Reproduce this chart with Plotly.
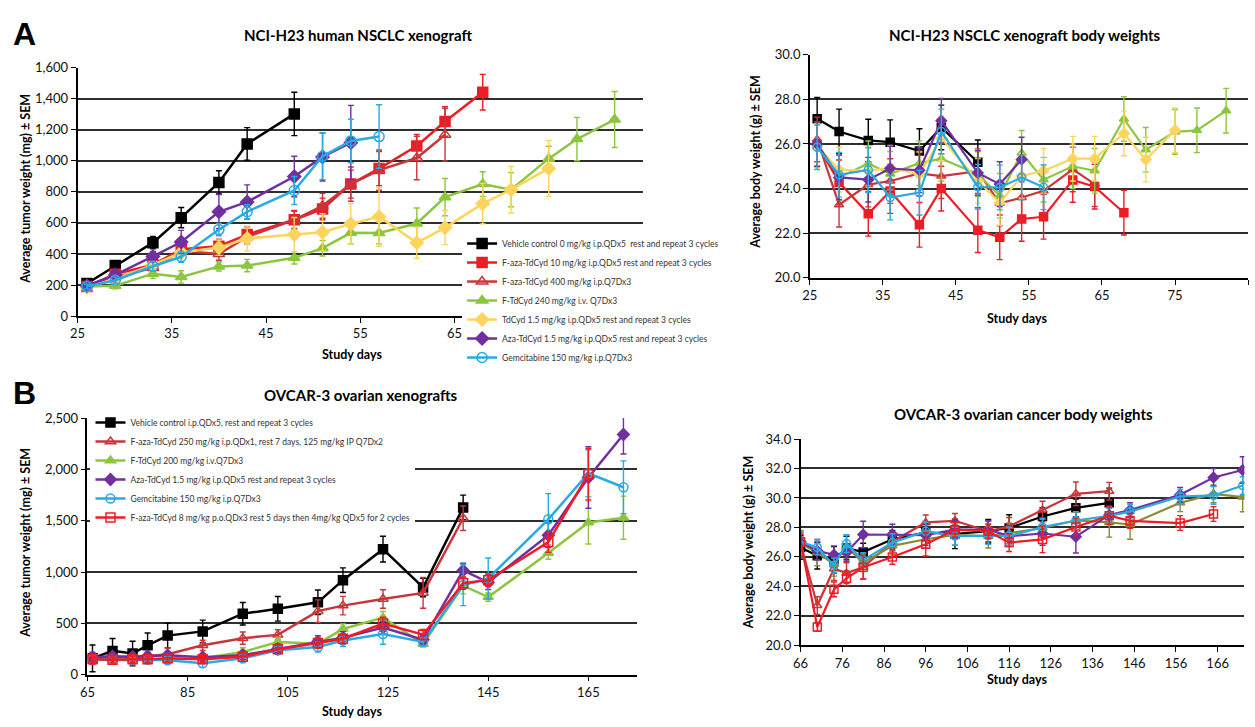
import plotly.graph_objects as go

W, H = 1255, 727

# ================= Panel A : NCI-H23 tumor weights =================
days_a = [26, 29, 33, 36, 40, 43, 48, 51, 54, 57, 61, 64, 68, 71, 75, 78, 82]

a_tw_vehicle = [210, 325, 473, 634, 861, 1109, 1302]
a_tw_vehicle_err = [15, 20, 40, 65, 75, 105, 140]
a_tw_faza10 = [190, 270, 330, 430, 450, 525, 620, 690, 850, 950, 1095, 1253, 1442]
a_tw_faza10_err = [15, 25, 30, 40, 45, 50, 60, 70, 90, 110, 75, 95, 115]
a_tw_faza400 = [195, 250, 310, 420, 400, 510, 620, 710, 850, 940, 1018, 1168]
a_tw_faza400_err = [15, 25, 30, 35, 40, 45, 55, 80, 110, 130, 140, 170]
a_tw_ftdcyd = [190, 195, 273, 252, 320, 325, 375, 437, 536, 535, 596, 766, 850, 814, 1014, 1140, 1266]
a_tw_ftdcyd_err = [15, 20, 30, 40, 30, 40, 40, 50, 70, 70, 100, 120, 80, 110, 80, 140, 180]
a_tw_tdcyd = [185, 240, 330, 410, 441, 500, 525, 540, 594, 640, 472, 570, 724, 814, 951]
a_tw_tdcyd_err = [15, 25, 35, 40, 50, 80, 110, 120, 130, 190, 100, 110, 130, 150, 180]
a_tw_aza = [195, 265, 384, 477, 672, 735, 899, 1025, 1117]
a_tw_aza_err = [15, 25, 30, 75, 110, 110, 130, 155, 240]
a_tw_gem = [190, 231, 321, 382, 557, 672, 809, 1029, 1128, 1156]
a_tw_gem_err = [15, 20, 30, 35, 40, 45, 90, 150, 140, 205]

# ================= Panel A : NCI-H23 body weights =================
a_bw_vehicle = [27.13, 26.56, 26.16, 26.08, 25.68, 26.74, 25.18]
a_bw_vehicle_err = [0.95, 1.0, 0.95, 1.0, 1.0, 1.0, 1.0]
a_bw_faza10 = [25.98, 24.28, 22.87, 23.89, 22.38, 24.0, 22.14, 21.82, 22.64, 22.74, 24.39, 24.09, 22.92]
a_bw_faza10_err = [1.0, 1.0, 1.0, 1.0, 1.0, 1.0, 1.0, 1.0, 1.0, 1.0, 1.0, 1.0, 1.0]
a_bw_faza400 = [26.2, 23.28, 24.18, 24.34, 24.68, 24.56, 24.78, 23.34, 23.6, 23.9, 24.86, 24.2]
a_bw_faza400_err = [1.0, 1.0, 1.0, 1.0, 1.0, 1.0, 1.0, 1.0, 1.0, 1.0, 1.0, 1.0]
a_bw_ftdcyd = [26.0, 24.5, 25.13, 24.66, 25.14, 25.34, 24.65, 23.68, 25.6, 24.4, 25.0, 24.8, 27.12, 25.74, 26.54, 26.61, 27.49]
a_bw_ftdcyd_err = [1.0, 1.0, 1.0, 1.0, 1.0, 1.0, 1.0, 1.0, 1.0, 1.0, 1.0, 1.0, 1.0, 1.0, 1.0, 1.0, 1.0]
a_bw_tdcyd = [25.9, 24.85, 24.8, 24.93, 24.64, 26.25, 24.35, 23.36, 24.57, 24.8, 25.34, 25.34, 26.47, 25.3, 26.61]
a_bw_tdcyd_err = [1.0, 1.0, 1.0, 1.0, 1.0, 1.0, 1.0, 1.0, 1.0, 1.0, 1.0, 1.0, 1.0, 1.0, 1.0]
a_bw_aza = [26.0, 24.5, 24.4, 24.9, 24.82, 27.04, 24.7, 24.2, 25.3]
a_bw_aza_err = [1.0, 1.0, 1.0, 1.0, 1.0, 1.0, 1.0, 1.0, 1.0]
a_bw_gem = [25.85, 24.62, 24.84, 23.6, 23.82, 26.56, 24.08, 24.05, 24.5, 24.06]
a_bw_gem_err = [1.0, 1.0, 1.0, 1.0, 1.0, 1.0, 1.0, 1.0, 1.0, 1.0]

# ================= Panel B : OVCAR-3 tumor weights =================
days_b = [66, 70, 74, 77, 81, 88, 96, 103, 111, 116, 124, 132, 140, 145, 157, 165, 172]

b_tw_vehicle = [159, 232, 206, 286, 381, 422, 594, 642, 705, 921, 1223, 850, 1629]
b_tw_vehicle_err = [130, 120, 120, 120, 120, 110, 110, 120, 120, 120, 125, 90, 120]
b_tw_faza250 = [160, 165, 170, 180, 200, 286, 356, 388, 619, 673, 737, 797, 1524]
b_tw_faza250_err = [60, 40, 40, 40, 60, 50, 60, 50, 110, 90, 90, 150, 120]
b_tw_ftdcyd = [160, 150, 150, 150, 150, 160, 222, 318, 302, 445, 556, 300, 867, 756, 1185, 1483, 1530]
b_tw_ftdcyd_err = [40, 30, 30, 30, 30, 40, 40, 40, 40, 50, 60, 30, 80, 40, 60, 210, 210]
b_tw_aza = [170, 180, 175, 180, 190, 170, 190, 250, 320, 360, 460, 340, 1016, 900, 1359, 1921, 2340]
b_tw_aza_err = [40, 30, 30, 30, 30, 30, 40, 50, 60, 60, 60, 40, 70, 70, 120, 300, 190]
b_tw_gem = [150, 145, 140, 145, 140, 111, 159, 238, 270, 333, 397, 320, 873, 937, 1514, 1962, 1826]
b_tw_gem_err = [40, 30, 30, 30, 30, 40, 40, 40, 50, 60, 100, 40, 200, 200, 250, 230, 257]
b_tw_faza8 = [150, 145, 150, 150, 160, 150, 175, 248, 308, 350, 499, 390, 892, 921, 1292, 1953]
b_tw_faza8_err = [30, 30, 30, 30, 30, 30, 30, 40, 50, 50, 60, 50, 60, 60, 100, 250]

# ================= Panel B : OVCAR-3 body weights =================
b_bw_vehicle = [26.64, 26.08, 25.8, 26.6, 26.33, 27.2, 27.67, 27.56, 27.74, 27.96, 28.74, 29.33, 29.67]
b_bw_vehicle_err = [0.8, 0.9, 0.9, 0.8, 0.6, 0.6, 0.6, 1.0, 0.8, 0.9, 0.6, 0.6, 1.0]
b_bw_faza250 = [26.9, 22.7, 25.2, 24.9, 25.3, 27.03, 28.34, 28.45, 27.74, 28.07, 29.18, 30.28, 30.46]
b_bw_faza250_err = [0.8, 0.6, 0.8, 0.7, 0.8, 0.6, 0.5, 0.5, 0.7, 0.6, 0.6, 0.8, 0.6]
b_bw_ftdcyd = [26.9, 26.3, 25.5, 26.7, 25.6, 26.75, 27.2, 27.5, 27.4, 27.6, 27.96, 28.47, 28.34, 28.2, 29.67, 30.28, 30.06]
b_bw_ftdcyd_err = [0.9, 0.9, 0.8, 0.8, 0.6, 0.6, 0.6, 0.7, 0.8, 0.7, 0.6, 0.6, 1.0, 1.0, 0.6, 0.6, 1.0]
b_bw_aza = [27.03, 26.41, 26.15, 26.3, 27.52, 27.52, 27.48, 27.85, 27.85, 27.41, 27.59, 27.37, 28.85, 29.18, 30.22, 31.39, 31.9]
b_bw_aza_err = [0.6, 0.6, 0.6, 0.6, 0.9, 0.7, 0.7, 0.6, 0.6, 0.7, 0.8, 1.1, 0.6, 0.5, 0.5, 0.6, 0.9]
b_bw_gem = [27.03, 26.64, 25.42, 26.9, 25.78, 26.97, 27.74, 27.41, 27.45, 27.41, 28.03, 28.47, 28.78, 29.07, 30.1, 30.17, 30.84]
b_bw_gem_err = [0.6, 0.5, 0.5, 0.6, 0.5, 0.6, 0.6, 0.6, 0.6, 0.6, 0.6, 0.6, 0.5, 0.5, 0.5, 0.6, 0.6]
b_bw_faza8 = [27.03, 21.25, 23.8, 24.55, 25.3, 26.0, 26.86, 27.85, 27.74, 26.97, 27.19, 28.03, 28.8, 28.45, 28.3, 28.91]
b_bw_faza8_err = [0.5, 0.3, 0.5, 0.5, 0.8, 0.5, 0.8, 0.5, 0.5, 0.6, 0.9, 0.6, 0.6, 0.5, 0.5, 0.5]

# tick labels
a_tw_xticks = [25, 35, 45, 55, 65]

# legend labels
a_names = [
    "Vehicle control 0 mg/kg i.p.QDx5  rest and repeat 3 cycles",
    "F-aza-TdCyd 10 mg/kg i.p.QDx5 rest and repeat 3 cycles",
    "F-aza-TdCyd 400 mg/kg i.p.Q7Dx3",
    "F-TdCyd 240 mg/kg i.v. Q7Dx3",
    "TdCyd 1.5 mg/kg i.p.QDx5 rest and repeat 3 cycles",
    "Aza-TdCyd 1.5 mg/kg i.p.QDx5 rest and repeat 3 cycles",
    "Gemcitabine 150 mg/kg i.p.Q7Dx3",
]
b_names = [
    "Vehicle control i.p.QDx5, rest and repeat 3 cycles",
    "F-aza-TdCyd 250 mg/kg i.p.QDx1, rest 7 days, 125 mg/kg IP Q7Dx2",
    "F-TdCyd 200 mg/kg i.v.Q7Dx3",
    "Aza-TdCyd 1.5 mg/kg i.p.QDx5 rest and repeat 3 cycles",
    "Gemcitabine 150 mg/kg i.p.Q7Dx3",
    "F-aza-TdCyd 8 mg/kg p.o.QDx3 rest 5 days then 4mg/kg QDx5 for 2 cycles",
]

BLACK = "#000000"
RED = "#EE1C25"
DRED = "#C8363A"
GREEN = "#8CC63F"
OLIVE = "#8B8B35"
YELLOW = "#FFD45C"
PURPLE = "#7030A0"
CYAN = "#29AAE2"

a_style = [
    (BLACK, "square"),
    (RED, "square"),
    (DRED, "triangle-up-open"),
    (GREEN, "triangle-up"),
    (YELLOW, "diamond"),
    (PURPLE, "diamond"),
    (CYAN, "circle-open"),
]
b_style = [
    (BLACK, "square"),
    (DRED, "triangle-up-open"),
    (GREEN, "triangle-up"),
    (PURPLE, "diamond"),
    (CYAN, "circle-open"),
    (RED, "square-open"),
]

fig = go.Figure()


def add(x, y, err, color, symbol, xa, ya, name=None, legend=None, msize=9, lw=2.5):
    fig.add_trace(go.Scatter(
        x=x[:len(y)], y=y, mode="lines+markers",
        name=name if name else "",
        showlegend=legend is not None,
        legend=legend if legend else "legend",
        line=dict(color=color, width=lw),
        marker=dict(color=color, symbol=symbol, size=msize,
                    line=dict(color=color, width=1.5)),
        error_y=dict(type="data", array=err, color=color, thickness=1.4, width=3),
        xaxis=xa, yaxis=ya,
    ))


a_tw = [(a_tw_vehicle, a_tw_vehicle_err), (a_tw_faza10, a_tw_faza10_err),
        (a_tw_faza400, a_tw_faza400_err), (a_tw_ftdcyd, a_tw_ftdcyd_err),
        (a_tw_tdcyd, a_tw_tdcyd_err), (a_tw_aza, a_tw_aza_err), (a_tw_gem, a_tw_gem_err)]
a_bw = [(a_bw_vehicle, a_bw_vehicle_err), (a_bw_faza10, a_bw_faza10_err),
        (a_bw_faza400, a_bw_faza400_err), (a_bw_ftdcyd, a_bw_ftdcyd_err),
        (a_bw_tdcyd, a_bw_tdcyd_err), (a_bw_aza, a_bw_aza_err), (a_bw_gem, a_bw_gem_err)]
b_tw = [(b_tw_vehicle, b_tw_vehicle_err), (b_tw_faza250, b_tw_faza250_err),
        (b_tw_ftdcyd, b_tw_ftdcyd_err), (b_tw_aza, b_tw_aza_err),
        (b_tw_gem, b_tw_gem_err), (b_tw_faza8, b_tw_faza8_err)]
b_bw = [(b_bw_vehicle, b_bw_vehicle_err), (b_bw_faza250, b_bw_faza250_err),
        (b_bw_ftdcyd, b_bw_ftdcyd_err), (b_bw_aza, b_bw_aza_err),
        (b_bw_gem, b_bw_gem_err), (b_bw_faza8, b_bw_faza8_err)]

for (y, e), (c, s), n in zip(a_tw, a_style, a_names):
    add(days_a, y, e, c, s, "x", "y", name=n, legend="legend", msize=10)
for (y, e), (c, s) in zip(a_bw, a_style):
    add(days_a, y, e, c, s, "x2", "y2", msize=8, lw=2.2)
for (y, e), (c, s), n in zip(b_tw, b_style, b_names):
    add(days_b, y, e, c, s, "x3", "y3", name=n, legend="legend2", msize=9)
b_bw_colors = [BLACK, DRED, OLIVE, PURPLE, CYAN, RED]
for (y, e), col, (_, s) in zip(b_bw, b_bw_colors, b_style):
    add(days_b, y, e, col, s, "x4", "y4", msize=8, lw=2.2)

FONT = "Lato"
TICKFONT = dict(family=FONT, size=13, color="#111")


def dom_x(a, b):
    return [a / W, b / W]


def dom_y(top, bottom):
    return [1 - bottom / H, 1 - top / H]


def xax(domain, rng, tick0, dtick, anchor, tickvals=None):
    d = dict(domain=domain, range=rng, tick0=tick0, dtick=dtick, anchor=anchor,
             showline=True, linecolor="black", linewidth=1.6, ticks="outside",
             ticklen=5, tickcolor="black", tickfont=TICKFONT, showgrid=False,
             zeroline=False)
    if tickvals is not None:
        d["tickmode"] = "array"
        d["tickvals"] = tickvals
    return d


def yax(domain, rng, dtick, fmt, anchor):
    return dict(domain=domain, range=rng, dtick=dtick, tickformat=fmt, anchor=anchor,
                showline=True, linecolor="black", linewidth=1.6, ticks="outside",
                ticklen=5, tickcolor="black", tickfont=TICKFONT, showgrid=True,
                gridcolor="#2e2e2e", gridwidth=1.8, zeroline=False)


ann = []


def text(x, y, s, size=12, angle=0, xanchor="center", family=FONT):
    ann.append(dict(x=x / W, y=1 - y / H, xref="paper", yref="paper", text=s,
                    showarrow=False, textangle=angle, xanchor=xanchor, yanchor="middle",
                    font=dict(family=family, size=size, color="#000")))


text(352, 28, "<b>NCI-H23 human NSCLC xenograft</b>", 15)
text(1024, 28, "<b>NCI-H23 NSCLC xenograft body weights</b>", 15)
text(355, 396, "<b>OVCAR-3 ovarian xenografts</b>", 15)
text(1022, 415, "<b>OVCAR-3 ovarian cancer body weights</b>", 15)
text(346, 354, "<b>Study days</b>", 12.5)
text(1015, 317, "<b>Study days</b>", 12.5)
text(346, 719, "<b>Study days</b>", 12.5)
text(1015, 687, "<b>Study days</b>", 12.5)
text(18, 185, "<b>Average tumor weight (mg) ± SEM</b>", 12.5, angle=-90)
text(18, 547, "<b>Average tumor weight (mg) ± SEM</b>", 12.5, angle=-90)
text(752, 158, "<b>Average body weight (g) ± SEM</b>", 12.5, angle=-90)
text(746, 547, "<b>Average body weight (g) ± SEM</b>", 12.5, angle=-90)
text(3, 27, "<b>A</b>", 32, xanchor="left", family="Liberation Sans")
text(3, 394, "<b>B</b>", 32, xanchor="left", family="Liberation Sans")

legend_font = dict(family=FONT, size=8.5, color="#333")

fig.update_layout(
    width=W, height=H,
    margin=dict(l=0, r=0, t=0, b=0),
    paper_bgcolor="white", plot_bgcolor="white",
    font=dict(family=FONT),
    xaxis=xax(dom_x(70, 639), [25, 85], 25, 10, "y", tickvals=a_tw_xticks),
    yaxis=yax(dom_y(61, 315), [0, 1600], 200, ",", "x"),
    xaxis2=xax(dom_x(807, 1248), [25, 85], 25, 10, "y2"),
    yaxis2=yax(dom_y(47.7, 276), [20, 30], 2, ".1f", "x2"),
    xaxis3=xax(dom_x(80, 633), [65, 174.7], 65, 20, "y3"),
    yaxis3=yax(dom_y(419.3, 681.7), [0, 2500], 500, ",", "x3"),
    xaxis4=xax(dom_x(797.7, 1244.3), [66, 172.4], 66, 10, "y4"),
    yaxis4=yax(dom_y(440.7, 651.7), [20, 34], 2, ".1f", "x4"),
    legend=dict(x=457 / W, y=1 - 226 / H, xanchor="left", yanchor="top",
                bgcolor="white", borderwidth=0, font=legend_font,
                tracegroupgap=0),
    legend2=dict(x=83 / W, y=1 - 409 / H, xanchor="left", yanchor="top",
                 bgcolor="white", borderwidth=0, font=legend_font,
                 tracegroupgap=0),
    annotations=ann,
)

fig.write_html(
    "out.html",
    config={"displayModeBar": False},
    post_script="document.body.style.margin='0';document.body.style.padding='0';"
                "document.body.style.overflow='hidden';",
)
